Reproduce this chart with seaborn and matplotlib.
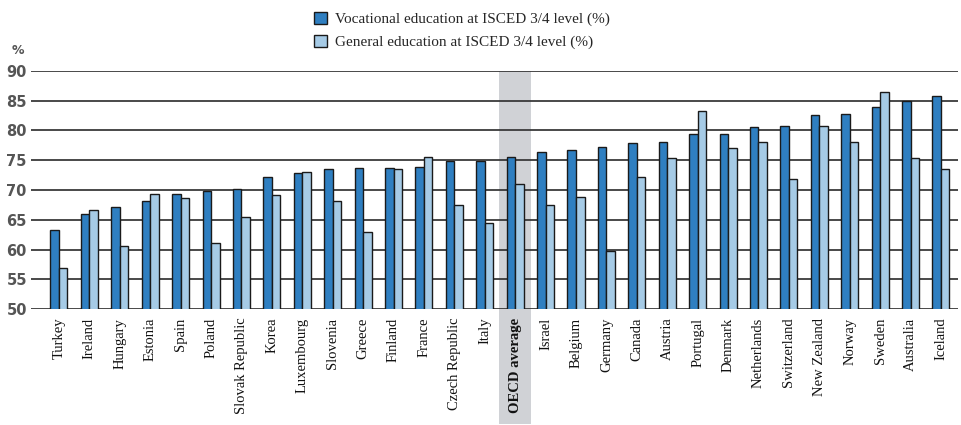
import pandas as pd
import numpy as np
import matplotlib.pyplot as plt
import seaborn as sns

# Share of adults employed, by type of upper secondary education
countries = ['Turkey', 'Ireland', 'Hungary', 'Estonia', 'Spain', 'Poland',
             'Slovak Republic', 'Korea', 'Luxembourg', 'Slovenia', 'Greece',
             'Finland', 'France', 'Czech Republic', 'Italy', 'OECD average',
             'Israel', 'Belgium', 'Germany', 'Canada', 'Austria', 'Portugal',
             'Denmark', 'Netherlands', 'Switzerland', 'New Zealand', 'Norway',
             'Sweden', 'Australia', 'Iceland']
vocational = [63.3, 66.0, 67.1, 68.2, 69.3, 69.9, 70.1, 72.1, 72.8, 73.5, 73.7,
              73.7, 73.9, 74.8, 74.9, 75.6, 76.3, 76.7, 77.2, 77.8, 78.1, 79.4,
              79.4, 80.5, 80.7, 82.5, 82.7, 83.9, 84.9, 85.8]
general = [56.9, 66.6, 60.6, 69.4, 68.6, 61.1, 65.5, 69.1, 73.0, 68.2, 63.0,
           73.5, 75.6, 67.5, 64.4, 71.0, 67.5, 68.8, 59.8, 72.1, 75.3, 83.2,
           77.1, 78.1, 71.9, 80.7, 78.1, 86.5, 75.3, 73.5]

voc_label = 'Vocational education at ISCED 3/4 level (%)'
gen_label = 'General education at ISCED 3/4 level (%)'

df = pd.DataFrame({
    'country': countries * 2,
    'value': vocational + general,
    'type': [voc_label] * len(countries) + [gen_label] * len(countries),
})

sns.set_style('white')
serif = ['Liberation Serif', 'DejaVu Serif']

fig = plt.figure(figsize=(9.62, 4.25), dpi=100)
ax = fig.add_axes([31 / 962, 115.7 / 425, 927 / 962, 238.6 / 425])

# OECD average highlight band (extends down through the label)
oecd_idx = countries.index('OECD average')
ax.axvspan(oecd_idx - 0.53, oecd_idx + 0.53, ymin=-0.48, ymax=1.0,
           color='#d0d2d6', zorder=0, clip_on=False, lw=0)

# Gridlines
for y in range(50, 95, 5):
    ax.axhline(y, color='#3a3a3a', lw=1.3, zorder=1)

sns.barplot(data=df, x='country', y='value', hue='type',
            palette=['#2f7fc1', '#a6cbe6'], edgecolor='#1a1a1a', linewidth=1,
            width=0.56, saturation=1, ax=ax, zorder=2)

ax.set_ylim(50, 90)
ax.set_xlim(-0.92, 29.56)
ax.set_yticks(range(50, 95, 5))
ax.set_xlabel('')
ax.set_ylabel('')
for s in ax.spines.values():
    s.set_visible(False)
ax.tick_params(axis='both', length=0)
ax.tick_params(axis='y', pad=3, labelsize=10.5, labelcolor='#555555')
ax.tick_params(axis='x', pad=6)
for lab in ax.get_yticklabels():
    lab.set_fontweight('bold')

ax.set_xticks(range(len(countries)))
ax.set_xticklabels(countries, rotation=90, family=serif, fontsize=10.5, color='#111111')
for lab in ax.get_xticklabels():
    if lab.get_text() == 'OECD average':
        lab.set_fontweight('bold')

fig.text(18 / 962, 1 - 50 / 425, '%', fontsize=9, color='#555555',
         fontweight='bold', ha='center', va='center')

handles, labels = ax.get_legend_handles_labels()
ax.get_legend().remove()
fig.legend(handles, labels, loc='center', bbox_to_anchor=(0.48, 1 - 30.5 / 425),
           frameon=False, ncol=1, prop={'family': serif, 'size': 11},
           labelspacing=0.55, handlelength=0.9, handleheight=0.9, handletextpad=0.5)

fig.savefig('out.png', dpi=100)
